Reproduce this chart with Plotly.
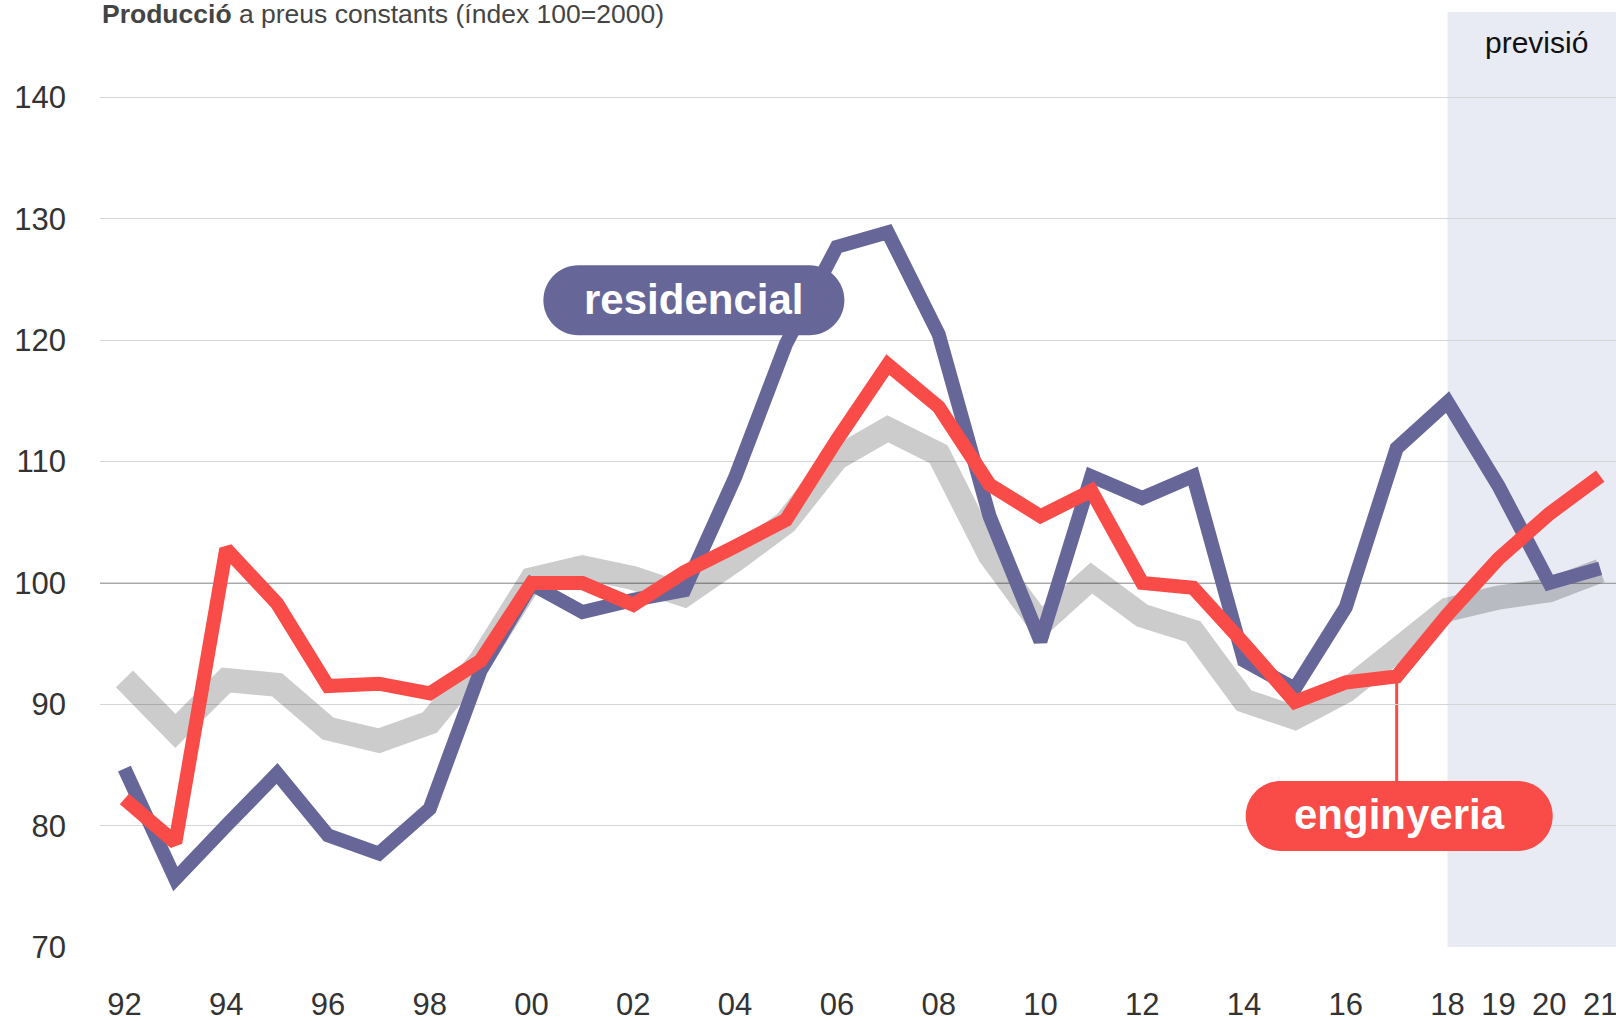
import plotly.graph_objects as go

years = list(range(1992, 2022))

residencial = [84.7, 75.6, 80.0, 84.3, 79.2, 77.7, 81.4, 92.8, 99.9, 97.6,
               98.6, 99.4, 108.7, 119.7, 127.7, 128.9, 120.5, 105.5, 95.2, 108.8,
               107.0, 108.8, 93.6, 91.3, 98.0, 111.1, 114.9, 108.0, 100.0, 101.2]

enginyeria = [82.2, 78.6, 102.8, 98.3, 91.5, 91.7, 90.9, 93.6, 100.0, 100.0,
              98.2, 100.9, 103.0, 105.2, 111.8, 118.0, 114.5, 108.1, 105.5, 107.6,
              100.0, 99.6, 95.0, 90.2, 91.8, 92.3, 97.4, 102.0, 105.7, 108.8]

total = [92.1, 87.8, 92.0, 91.6, 88.0, 87.0, 88.5, 93.6, 100.3, 101.3,
         100.4, 99.0, 101.9, 105.0, 110.3, 112.7, 110.6, 102.3, 96.6, 100.4,
         97.3, 96.0, 90.3, 88.9, 91.1, 94.3, 97.8, 98.8, 99.4, 101.0]

tick_years = [1992, 1994, 1996, 1998, 2000, 2002, 2004, 2006, 2008, 2010,
              2012, 2014, 2016, 2018, 2019, 2020, 2021]
tick_text = ["92", "94", "96", "98", "00", "02", "04", "06", "08", "10",
             "12", "14", "16", "18", "19", "20", "21"]
y_ticks = [70, 80, 90, 100, 110, 120, 130, 140]

forecast_start = 2018
label_res = dict(text="residencial", x=2003.19, y=123.3, w=301, h=70)
label_eng = dict(text="enginyeria", x=2017.05, y=80.8, w=307, h=70)

BLUE = "#676699"
RED = "#f94b48"
BAND = "#e8eaf4"
FONT = "Liberation Sans, Arial, Helvetica, sans-serif"


def pill_path(w, h):
    r = h / 2.0
    k = 0.5523 * r
    a = w / 2.0 - r
    return (f"M {-a},{-r} L {a},{-r} "
            f"C {a + k},{-r} {a + r},{-k} {a + r},0 "
            f"C {a + r},{k} {a + k},{r} {a},{r} "
            f"L {-a},{r} "
            f"C {-a - k},{r} {-a - r},{k} {-a - r},0 "
            f"C {-a - r},{-k} {-a - k},{-r} {-a},{-r} Z")


fig = go.Figure()
fig.add_trace(go.Scatter(x=years, y=total, mode="lines",
                         line=dict(color="rgba(0,0,0,0.2)", width=24),
                         hoverinfo="skip", showlegend=False))
fig.add_trace(go.Scatter(x=years, y=residencial, mode="lines",
                         line=dict(color=BLUE, width=14),
                         showlegend=False))
fig.add_trace(go.Scatter(x=years, y=enginyeria, mode="lines",
                         line=dict(color=RED, width=14),
                         showlegend=False))

shapes = []
shapes.append(dict(type="rect", xref="x", yref="paper", x0=forecast_start, x1=2022,
                   y0=0, y1=1, fillcolor=BAND, line=dict(width=0), layer="below"))
shapes.append(dict(type="line", xref="paper", yref="y", x0=0, x1=1, y0=100, y1=100,
                   line=dict(color="#555555", width=1.3), layer="below"))
eng_2017 = enginyeria[years.index(2017)]
shapes.append(dict(type="line", xref="x", yref="y", x0=2017, x1=2017,
                   y0=eng_2017, y1=label_eng["y"], line=dict(color=RED, width=3),
                   layer="below"))
for lab, col in ((label_res, BLUE), (label_eng, RED)):
    shapes.append(dict(type="path", xref="x", yref="y", xsizemode="pixel",
                       ysizemode="pixel", xanchor=lab["x"], yanchor=lab["y"],
                       path=pill_path(lab["w"], lab["h"]), fillcolor=col,
                       line=dict(width=0), layer="above"))

annotations = []
for lab in (label_res, label_eng):
    annotations.append(dict(x=lab["x"], y=lab["y"], xref="x", yref="y",
                            text=f"<b>{lab['text']}</b>", showarrow=False,
                            font=dict(family=FONT, size=42, color="white"),
                            xanchor="center", yanchor="middle", yshift=1))
annotations.append(dict(x=0, y=1, xref="paper", yref="paper", xanchor="left",
                        yanchor="middle", yshift=-2,
                        text="<b>Producció</b> a preus constants (índex 100=2000)",
                        showarrow=False,
                        font=dict(family=FONT, size=26.5, color="#444444")))
annotations.append(dict(x=2019.75, y=1, xref="x", yref="paper", xanchor="center",
                        yanchor="middle", yshift=-30, text="previsió",
                        showarrow=False,
                        font=dict(family=FONT, size=30, color="#111111")))

fig.update_layout(
    width=1616, height=1021,
    margin=dict(l=100, r=0, t=12, b=74),
    paper_bgcolor="white", plot_bgcolor="white",
    shapes=shapes, annotations=annotations,
    font=dict(family=FONT, color="#333333"),
    xaxis=dict(range=[1991.52, 2021.31], tickmode="array", tickvals=tick_years,
               ticktext=tick_text, showgrid=False, zeroline=False, showline=False,
               tickfont=dict(size=31, color="#333333"), ticks="",
               ticklabelstandoff=36, automargin=False, ticklabeloverflow="allow"),
    yaxis=dict(range=[70, 147.05], tickmode="array", tickvals=y_ticks,
               showgrid=True, gridcolor="#d6d6d6", gridwidth=1, zeroline=False,
               showline=False, tickfont=dict(size=31, color="#333333"), ticks="",
               ticklabelstandoff=33, automargin=False),
)

fig.write_html(
    "out.html",
    config={"displayModeBar": False},
    post_script="document.body.style.margin='0';document.body.style.overflow='hidden';",
)
